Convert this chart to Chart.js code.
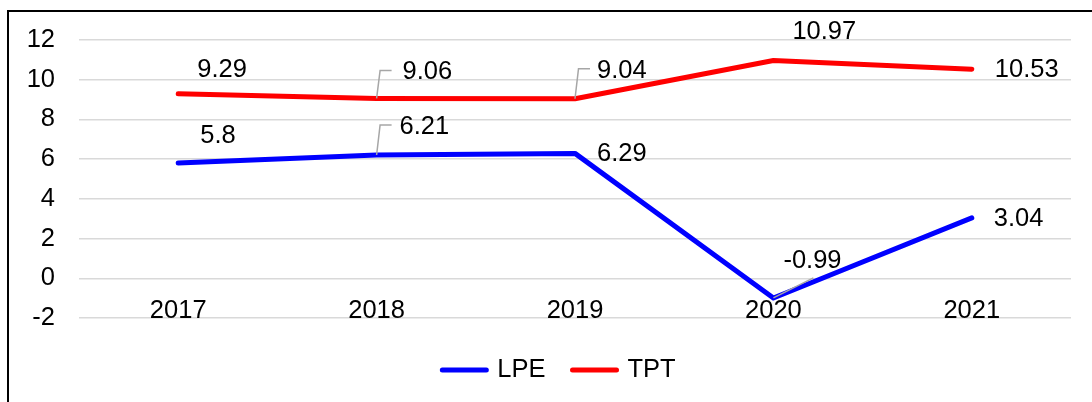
<!DOCTYPE html>
<html><head><meta charset="utf-8">
<script src="https://cdn.jsdelivr.net/npm/chart.js@4/dist/chart.umd.min.js"></script>
<style>html,body{margin:0;padding:0;background:#fff;overflow:hidden}canvas{display:block}</style>
</head><body>
<canvas id="c" width="1092" height="402"></canvas>
<script>
const categories = ['2017', '2018', '2019', '2020', '2021'];
const lpeValues = [5.8, 6.21, 6.29, -0.99, 3.04];
const tptValues = [9.29, 9.06, 9.04, 10.97, 10.53];
const yTickValues = [-2, 0, 2, 4, 6, 8, 10, 12];

const FONT = "'Liberation Sans', Arial, sans-serif";
const FS = 25.5;

// label placement relative to each point (text left edge / vertical centre)
const labelPlacement = [
  [ {dx:22,dy:-27}, {dx:23,dy:-28,leader:'elbow'}, {dx:22,dy:1}, {dx:10,dy:-37,leader:'diag'}, {dx:22,dy:1} ],
  [ {dx:19,dy:-24}, {dx:26,dy:-26,leader:'elbow'}, {dx:22,dy:-28,leader:'elbow'}, {dx:19,dy:-28}, {dx:23,dy:1} ]
];

const frame = {
  id: 'frame',
  beforeDraw(chart) {
    const ctx = chart.ctx;
    ctx.save();
    ctx.fillStyle = '#fff';
    ctx.fillRect(0, 0, chart.width, chart.height);
    ctx.strokeStyle = '#000';
    ctx.lineWidth = 2;
    ctx.beginPath();
    ctx.moveTo(8, chart.height + 5);
    ctx.lineTo(8, 11);
    ctx.lineTo(chart.width + 5, 11);
    ctx.stroke();
    ctx.restore();
  }
};

const dataLabels = {
  id: 'dataLabels',
  afterDatasetsDraw(chart) {
    const ctx = chart.ctx;
    ctx.save();
    ctx.font = FS + 'px ' + FONT;
    ctx.textBaseline = 'middle';
    ctx.textAlign = 'left';
    chart.data.datasets.forEach((ds, di) => {
      const meta = chart.getDatasetMeta(di);
      meta.data.forEach((pt, i) => {
        const pl = labelPlacement[di][i];
        const tx = pt.x + pl.dx, ty = pt.y + pl.dy;
        if (pl.leader === 'elbow') {
          ctx.strokeStyle = '#a6a6a6';
          ctx.lineWidth = 1.5;
          ctx.beginPath();
          ctx.moveTo(pt.x, pt.y);
          ctx.lineTo(pt.x + 3.5, ty - 2);
          ctx.lineTo(pt.x + 15, ty - 2);
          ctx.stroke();
        } else if (pl.leader === 'diag') {
          ctx.strokeStyle = '#a6a6a6';
          ctx.lineWidth = 1.5;
          ctx.beginPath();
          ctx.moveTo(pt.x, pt.y);
          ctx.lineTo(pt.x + 40, pt.y - 20);
          ctx.stroke();
        }
        ctx.fillStyle = '#000';
        ctx.fillText(String(ds.data[i]), tx, ty);
      });
    });
    ctx.restore();
  }
};

// legend drawn from the datasets: line sample + label, centred below the plot
const lineLegend = {
  id: 'lineLegend',
  afterDraw(chart) {
    const ctx = chart.ctx;
    const sample = 48, gap = 9, spacing = 25, cy = 370, centre = 558;
    ctx.save();
    ctx.font = FS + 'px ' + FONT;
    ctx.textBaseline = 'middle';
    ctx.textAlign = 'left';
    const items = chart.data.datasets.map(ds => ({ ds, w: ctx.measureText(ds.label).width }));
    let total = items.reduce((a, it) => a + sample + gap + it.w, 0) + spacing * (items.length - 1);
    let x = centre - total / 2;
    items.forEach(it => {
      ctx.strokeStyle = it.ds.borderColor;
      ctx.lineWidth = it.ds.borderWidth;
      ctx.lineCap = 'round';
      ctx.beginPath();
      ctx.moveTo(x + 2, cy);
      ctx.lineTo(x + sample - 2, cy);
      ctx.stroke();
      ctx.fillStyle = '#000';
      ctx.fillText(it.ds.label, x + sample + gap, cy);
      x += sample + gap + it.w + spacing;
    });
    ctx.restore();
  }
};

new Chart(document.getElementById('c'), {
  type: 'line',
  data: {
    labels: categories,
    datasets: [
      { label: 'LPE', data: lpeValues, borderColor: '#0000ff', backgroundColor: '#0000ff',
        borderWidth: 5, pointRadius: 0, tension: 0, borderCapStyle: 'round', borderJoinStyle: 'round' },
      { label: 'TPT', data: tptValues, borderColor: '#ff0000', backgroundColor: '#ff0000',
        borderWidth: 5, pointRadius: 0, tension: 0, borderCapStyle: 'round', borderJoinStyle: 'round' }
    ]
  },
  options: {
    responsive: false,
    animation: false,
    devicePixelRatio: 1,
    layout: { padding: { left: 0, right: 21, top: 40, bottom: 54 } },
    plugins: {
      tooltip: { enabled: false },
      legend: { display: false }
    },
    scales: {
      x: {
        offset: true,
        grid: { display: false, drawTicks: false },
        border: { display: false },
        ticks: { color: '#000', font: { family: FONT, size: FS }, padding: -8, mirror: true, maxRotation: 0, autoSkip: false },
        afterFit(s) { s.height = 30; }
      },
      y: {
        min: -2, max: 12,
        afterBuildTicks(s) { s.ticks = yTickValues.map(v => ({ value: v })); },
        grid: { color: '#d9d9d9', lineWidth: 1.5, drawTicks: false },
        border: { display: false },
        ticks: { color: '#000', font: { family: FONT, size: FS }, padding: 24 },
        afterFit(s) { s.width = 79; }
      }
    }
  },
  plugins: [frame, dataLabels, lineLegend]
});
</script>
</body></html>
